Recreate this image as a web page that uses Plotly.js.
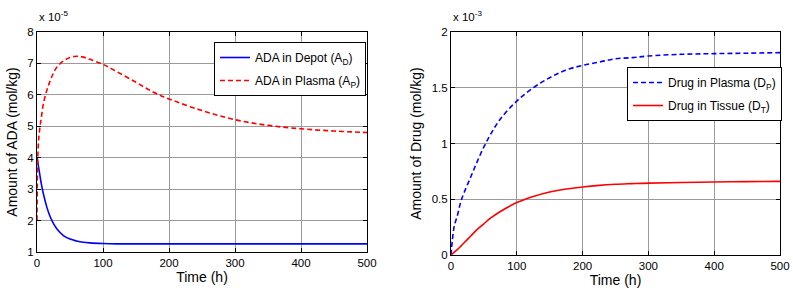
<!DOCTYPE html>
<html>
<head>
<meta charset="utf-8">
<script src="https://cdn.plot.ly/plotly-3.0.1.min.js"></script>
<style>html,body{margin:0;padding:0;background:#fff;}#chart{width:793px;height:294px;}</style>
</head>
<body>
<div id="chart"></div>
<script>
// Left panel: ADA amounts (units of 1e-5 mol/kg)
const timeA = [0, 0.5, 1, 2, 3, 5, 7, 10, 15, 20, 25, 30, 40, 50, 60, 70, 80, 100, 120, 150, 175, 200, 250, 300, 350, 400, 450, 500];
const adaDepot = [4.0, 3.95, 3.88, 3.75, 3.62, 3.36, 3.12, 2.82, 2.42, 2.12, 1.9, 1.74, 1.52, 1.41, 1.35, 1.31, 1.29, 1.27, 1.26, 1.26, 1.26, 1.26, 1.26, 1.26, 1.26, 1.26, 1.26, 1.26];
const adaPlasma = [2.0, 3.2, 3.9, 4.4, 4.7, 5.05, 5.35, 5.75, 6.15, 6.45, 6.7, 6.88, 7.08, 7.19, 7.23, 7.2, 7.13, 6.97, 6.75, 6.4, 6.1, 5.87, 5.5, 5.21, 5.03, 4.92, 4.85, 4.8];
// Right panel: Drug amounts (units of 1e-3 mol/kg)
const timeD = [0, 2, 5, 10, 15, 20, 30, 40, 50, 60, 75, 100, 125, 150, 175, 200, 225, 250, 275, 300, 350, 400, 450, 500];
const drugPlasma = [0, 0.13, 0.26, 0.36, 0.48, 0.56, 0.7, 0.84, 0.97, 1.08, 1.22, 1.38, 1.5, 1.59, 1.66, 1.7, 1.73, 1.76, 1.77, 1.785, 1.8, 1.806, 1.81, 1.815];
const drugTissue = [0, 0.01, 0.025, 0.05, 0.08, 0.11, 0.17, 0.23, 0.28, 0.33, 0.39, 0.47, 0.525, 0.565, 0.592, 0.61, 0.624, 0.634, 0.64, 0.645, 0.65, 0.655, 0.658, 0.66];
const xTicks = [0, 100, 200, 300, 400, 500];
const yTicksA = [1, 2, 3, 4, 5, 6, 7, 8];
const yTicksD = [0, 0.5, 1, 1.5, 2];

const FAM = 'Liberation Sans, Arial, sans-serif';
const font = {family: FAM, size: 11.5, color: '#000'};
const data = [
  {x: timeA, y: adaDepot, type: 'scatter', mode: 'lines', name: 'ADA in Depot (A<sub>D</sub>)', legendgroup: 'a',
   line: {color: '#0000ff', width: 1.6, shape: 'spline'}, xaxis: 'x', yaxis: 'y', legend: 'legend'},
  {x: timeA, y: adaPlasma, type: 'scatter', mode: 'lines', name: 'ADA in Plasma (A<sub>P</sub>)', legendgroup: 'b',
   line: {color: '#ff0000', width: 1.6, dash: '5px,3px', shape: 'spline'}, xaxis: 'x', yaxis: 'y', legend: 'legend'},
  {x: timeD, y: drugPlasma, type: 'scatter', mode: 'lines', name: 'Drug in Plasma (D<sub>P</sub>)', legendgroup: 'c',
   line: {color: '#0000ff', width: 1.6, dash: '5px,3px', shape: 'spline'}, xaxis: 'x2', yaxis: 'y2', legend: 'legend2'},
  {x: timeD, y: drugTissue, type: 'scatter', mode: 'lines', name: 'Drug in Tissue (D<sub>T</sub>)', legendgroup: 'd',
   line: {color: '#ff0000', width: 1.6, shape: 'spline'}, xaxis: 'x2', yaxis: 'y2', legend: 'legend2'}
];

const axCommon = {
  showline: true, linecolor: '#000', linewidth: 1, mirror: 'ticks',
  ticks: 'inside', ticklen: 4, tickcolor: '#000',
  showgrid: true, gridcolor: '#9a9a9a', gridwidth: 1, zeroline: false,
  tickfont: font
};
const titleFont = {family: FAM, size: 14, color: '#000'};
const legFont = {family: FAM, size: 12, color: '#000'};
const layout = {
  width: 793, height: 294,
  margin: {l: 0, r: 0, t: 0, b: 0},
  paper_bgcolor: '#fff', plot_bgcolor: '#fff',
  font: font,
  xaxis: Object.assign({}, axCommon, {domain: [37/793, 367/793], range: [0, 500], tickvals: xTicks,
    anchor: 'y', title: {text: 'Time (h)', font: titleFont, standoff: 4}}),
  yaxis: Object.assign({}, axCommon, {domain: [1-252/294, 1-32/294], range: [1, 8], tickvals: yTicksA,
    anchor: 'x', title: {text: 'Amount of ADA (mol/kg)', font: titleFont, standoff: 6}}),
  xaxis2: Object.assign({}, axCommon, {domain: [451/793, 780/793], range: [0, 500], tickvals: xTicks,
    anchor: 'y2', title: {text: 'Time (h)', font: titleFont, standoff: 4}}),
  yaxis2: Object.assign({}, axCommon, {domain: [1-255/294, 1-32/294], range: [0, 2], tickvals: yTicksD,
    ticktext: ['0', '0.5', '1', '1.5', '2'], anchor: 'x2',
    title: {text: 'Amount of Drug (mol/kg)', font: titleFont, standoff: 6}}),
  showlegend: true,
  legend: {x: 214/793, y: 1-42/294, xanchor: 'left', yanchor: 'top', bgcolor: '#fff',
    bordercolor: '#000', borderwidth: 1, font: legFont, tracegroupgap: 4},
  legend2: {x: 627/793, y: 1-67/294, xanchor: 'left', yanchor: 'top', bgcolor: '#fff',
    bordercolor: '#000', borderwidth: 1, font: legFont, tracegroupgap: 4},
  annotations: [
    {xref: 'paper', yref: 'paper', x: 37/793, y: 1-25/294, xanchor: 'left', yanchor: 'bottom', showarrow: false,
     text: 'x 10<sup>-5</sup>', font: {family: FAM, size: 11.5, color: '#000'}},
    {xref: 'paper', yref: 'paper', x: 451/793, y: 1-25/294, xanchor: 'left', yanchor: 'bottom', showarrow: false,
     text: 'x 10<sup>-3</sup>', font: {family: FAM, size: 11.5, color: '#000'}}
  ]
};
Plotly.newPlot('chart', data, layout, {displayModeBar: false, staticPlot: true});
</script>
</body>
</html>
